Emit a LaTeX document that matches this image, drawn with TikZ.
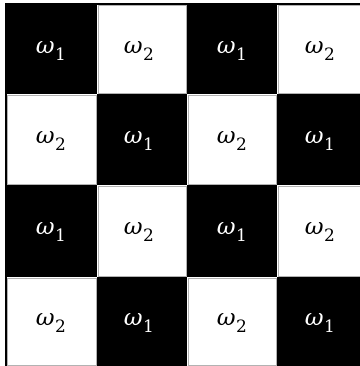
\documentclass[tikz,border=0pt]{standalone}
\usepackage{fontspec}
\newfontfamily\omfont{DejaVu Serif}
\newcommand{\om}[1]{{\omfont\itshape ω}\kern0.5pt\raisebox{-0.3em}{\omfont\fontsize{17}{20}\selectfont #1}}
\begin{document}
\begin{tikzpicture}[x=1pt,y=-1pt,
  blackcell/.style={fill=black},
  whitecell/.style={fill=white,draw=black!30,line width=0.6pt},
  lblw/.style={text=white,font=\fontsize{23}{27}\selectfont},
  lblb/.style={text=black,font=\fontsize{23}{27}\selectfont}]
\useasboundingbox (0,0) rectangle (359,366);
\fill[white] (0,0) rectangle (359,366);
\def\xa{6}\def\xb{97}\def\xc{187}\def\xd{277}\def\xe{365}
\def\ya{4}\def\yb{94}\def\yc{185}\def\yd{277}\def\ye{366}
% row 1
\fill[blackcell] (\xa,\ya) rectangle (\xb,\yb);
\draw[whitecell] (\xb+1,\ya+1) rectangle (\xc-1,\yb-1);
\fill[blackcell] (\xc,\ya) rectangle (\xd,\yb);
\draw[whitecell] (\xd+1,\ya+1) rectangle (\xe-1,\yb-1);
% row 2
\draw[whitecell] (\xa+1,\yb+1) rectangle (\xb-1,\yc-1);
\fill[blackcell] (\xb,\yb) rectangle (\xc,\yc);
\draw[whitecell] (\xc+1,\yb+1) rectangle (\xd-1,\yc-1);
\fill[blackcell] (\xd,\yb) rectangle (\xe,\yc);
% row 3
\fill[blackcell] (\xa,\yc) rectangle (\xb,\yd);
\draw[whitecell] (\xb+1,\yc+1) rectangle (\xc-1,\yd-1);
\fill[blackcell] (\xc,\yc) rectangle (\xd,\yd);
\draw[whitecell] (\xd+1,\yc+1) rectangle (\xe-1,\yd-1);
% row 4
\draw[whitecell] (\xa+1,\yd+1) rectangle (\xb-1,\ye-1);
\fill[blackcell] (\xb,\yd) rectangle (\xc,\ye);
\draw[whitecell] (\xc+1,\yd+1) rectangle (\xd-1,\ye-1);
\fill[blackcell] (\xd,\yd) rectangle (\xe,\ye);
% outer border
\draw[line width=2pt] (\xa,\ye) -- (\xa,\ya) -- (\xe,\ya);
% labels
\node[lblw] (a11) at (51,51) {\om{1}};
\node[lblb] (a12) at (139,51) {\om{2}};
\node[lblw] (a13) at (232,51) {\om{1}};
\node[lblb] (a14) at (320,51) {\om{2}};
\node[lblb] (a21) at (51,141) {\om{2}};
\node[lblw] (a22) at (139,141) {\om{1}};
\node[lblb] (a23) at (232,141) {\om{2}};
\node[lblw] (a24) at (320,141) {\om{1}};
\node[lblw] (a31) at (51,232) {\om{1}};
\node[lblb] (a32) at (139,232) {\om{2}};
\node[lblw] (a33) at (232,232) {\om{1}};
\node[lblb] (a34) at (320,232) {\om{2}};
\node[lblb] (a41) at (51,323) {\om{2}};
\node[lblw] (a42) at (139,323) {\om{1}};
\node[lblb] (a43) at (232,323) {\om{2}};
\node[lblw] (a44) at (320,323) {\om{1}};
\end{tikzpicture}
\end{document}
